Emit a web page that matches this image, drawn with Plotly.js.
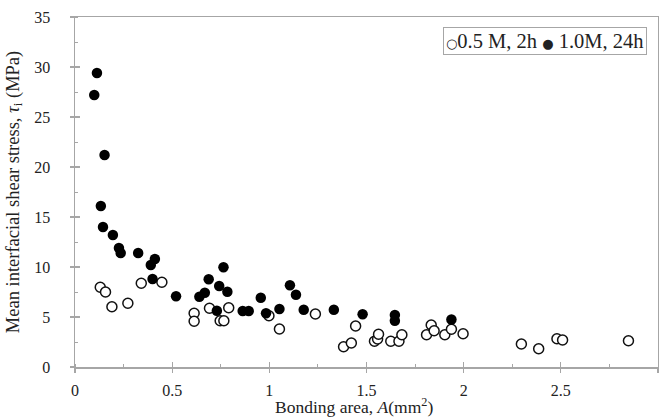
<!DOCTYPE html>
<html>
<head>
<meta charset="utf-8">
<script src="https://cdn.plot.ly/plotly-3.0.1.min.js"></script>
<style>html,body{margin:0;padding:0;background:#fff;}#chart{width:659px;height:419px;}</style>
</head>
<body>
<div id="chart"></div>
<script>
// 0.5 M, 2h (open circles)
const openX = [0.13, 0.157, 0.19, 0.272, 0.341, 0.447, 0.613, 0.613, 0.692, 0.747, 0.766, 0.791, 0.998, 1.052, 1.237, 1.382, 1.422, 1.444, 1.541, 1.557, 1.562, 1.625, 1.667, 1.682, 1.809, 1.833, 1.848, 1.903, 1.937, 1.997, 2.297, 2.386, 2.48, 2.509, 2.848];
const openY = [7.97, 7.5, 6.03, 6.37, 8.37, 8.47, 5.37, 4.57, 5.87, 4.63, 4.63, 5.93, 5.13, 3.8, 5.3, 2.03, 2.4, 4.1, 2.57, 2.8, 3.27, 2.57, 2.57, 3.23, 3.23, 4.2, 3.63, 3.23, 3.77, 3.33, 2.3, 1.83, 2.83, 2.7, 2.63];
// 1.0M, 24h (filled circles)
const fillX = [0.099, 0.113, 0.133, 0.144, 0.152, 0.195, 0.226, 0.235, 0.325, 0.39, 0.399, 0.411, 0.52, 0.64, 0.668, 0.688, 0.73, 0.742, 0.764, 0.784, 0.863, 0.894, 0.956, 0.983, 1.052, 1.106, 1.137, 1.177, 1.332, 1.48, 1.646, 1.646, 1.937];
const fillY = [27.2, 29.4, 16.1, 14.0, 21.2, 13.2, 11.9, 11.4, 11.4, 10.2, 8.8, 10.8, 7.07, 7.03, 7.43, 8.77, 5.63, 8.1, 9.97, 7.53, 5.6, 5.6, 6.93, 5.37, 5.8, 8.17, 7.23, 5.73, 5.73, 5.27, 5.2, 4.63, 4.75];

const seriesNames = ['0.5 M, 2h', '1.0M, 24h'];
const xTitle = 'Bonding area, <i>A</i>(mm<sup>2</sup>)';
const yTitle = 'Mean interfacial shear stress, <i>τ</i><sub>i</sub> (MPa)';

const FONT = 'Liberation Serif, Times New Roman, serif';
const AX = '#a6a6a6';
const TXT = '#222';

const traces = [
  {x: openX, y: openY, type: 'scatter', mode: 'markers', name: seriesNames[0],
   marker: {size: 10, color: '#ffffff', line: {color: '#111', width: 1.5}}},
  {x: fillX, y: fillY, type: 'scatter', mode: 'markers', name: seriesNames[1],
   marker: {size: 10.5, color: '#000000', line: {color: '#000', width: 0}}},
  // helper for inner half of crossing ticks
  {x: [], y: [], xaxis: 'x2', yaxis: 'y2', type: 'scatter', mode: 'markers', showlegend: false, hoverinfo: 'skip'}
];

const sym = (c) => '<span style="font-family:DejaVu Sans;font-size:13px">' + c + '</span>';
const legendText = sym('○') + seriesNames[0] + ' ' + sym('●') + ' ' + seriesNames[1];

const layout = {
  width: 659, height: 419,
  margin: {l: 75, r: 1, t: 17, b: 52},
  paper_bgcolor: '#fff', plot_bgcolor: '#fff',
  font: {family: FONT, size: 16, color: TXT},
  showlegend: false,
  annotations: [{
    xref: 'paper', yref: 'paper', x: 0.981, xanchor: 'right', y: 0.971, yanchor: 'top',
    text: legendText, showarrow: false, align: 'left',
    font: {family: FONT, size: 20.5, color: TXT},
    bgcolor: '#fff', bordercolor: '#a6a6a6', borderwidth: 1, borderpad: 2
  }, {
    xref: 'paper', yref: 'paper', x: 0.4786, xanchor: 'center', y: -0.1457, yanchor: 'bottom',
    text: xTitle, showarrow: false, borderpad: 0,
    font: {family: FONT, size: 17.5, color: TXT}
  }],
  xaxis: {
    range: [0, 3], dtick: 0.5, tick0: 0,
    showgrid: false, zeroline: false,
    showline: true, linecolor: AX, linewidth: 1.5, mirror: true,
    ticks: 'outside', ticklen: 4, tickcolor: AX, tickwidth: 1.3,
    minor: {dtick: 0.25, ticks: 'inside', ticklen: 3, tickcolor: AX, tickwidth: 1, showgrid: false},
    tickfont: {family: FONT, size: 16, color: TXT},
    ticklabelstandoff: 4
  },
  yaxis: {
    range: [0, 35], dtick: 5, tick0: 0,
    showgrid: false, zeroline: false,
    showline: true, linecolor: AX, linewidth: 1.5, mirror: true,
    ticks: 'outside', ticklen: 4, tickcolor: AX, tickwidth: 1.3,
    minor: {dtick: 2.5, ticks: 'inside', ticklen: 3, tickcolor: AX, tickwidth: 1, showgrid: false},
    tickfont: {family: FONT, size: 16, color: TXT},
    ticklabelstandoff: 16,
    title: {text: yTitle, font: {family: FONT, size: 18.5, color: TXT}, standoff: 10}
  },
  xaxis2: {
    overlaying: 'x', anchor: 'y2', range: [0, 3], dtick: 0.5, tick0: 0,
    showgrid: false, zeroline: false, showline: false,
    ticks: 'inside', ticklen: 5, tickcolor: AX, tickwidth: 1.3, showticklabels: false
  },
  yaxis2: {
    overlaying: 'y', anchor: 'x2', range: [0, 35], dtick: 5, tick0: 0,
    showgrid: false, zeroline: false, showline: false,
    ticks: 'inside', ticklen: 5, tickcolor: AX, tickwidth: 1.3, showticklabels: false
  }
};

Plotly.newPlot('chart', traces, layout, {displayModeBar: false, staticPlot: true});
</script>
</body>
</html>
